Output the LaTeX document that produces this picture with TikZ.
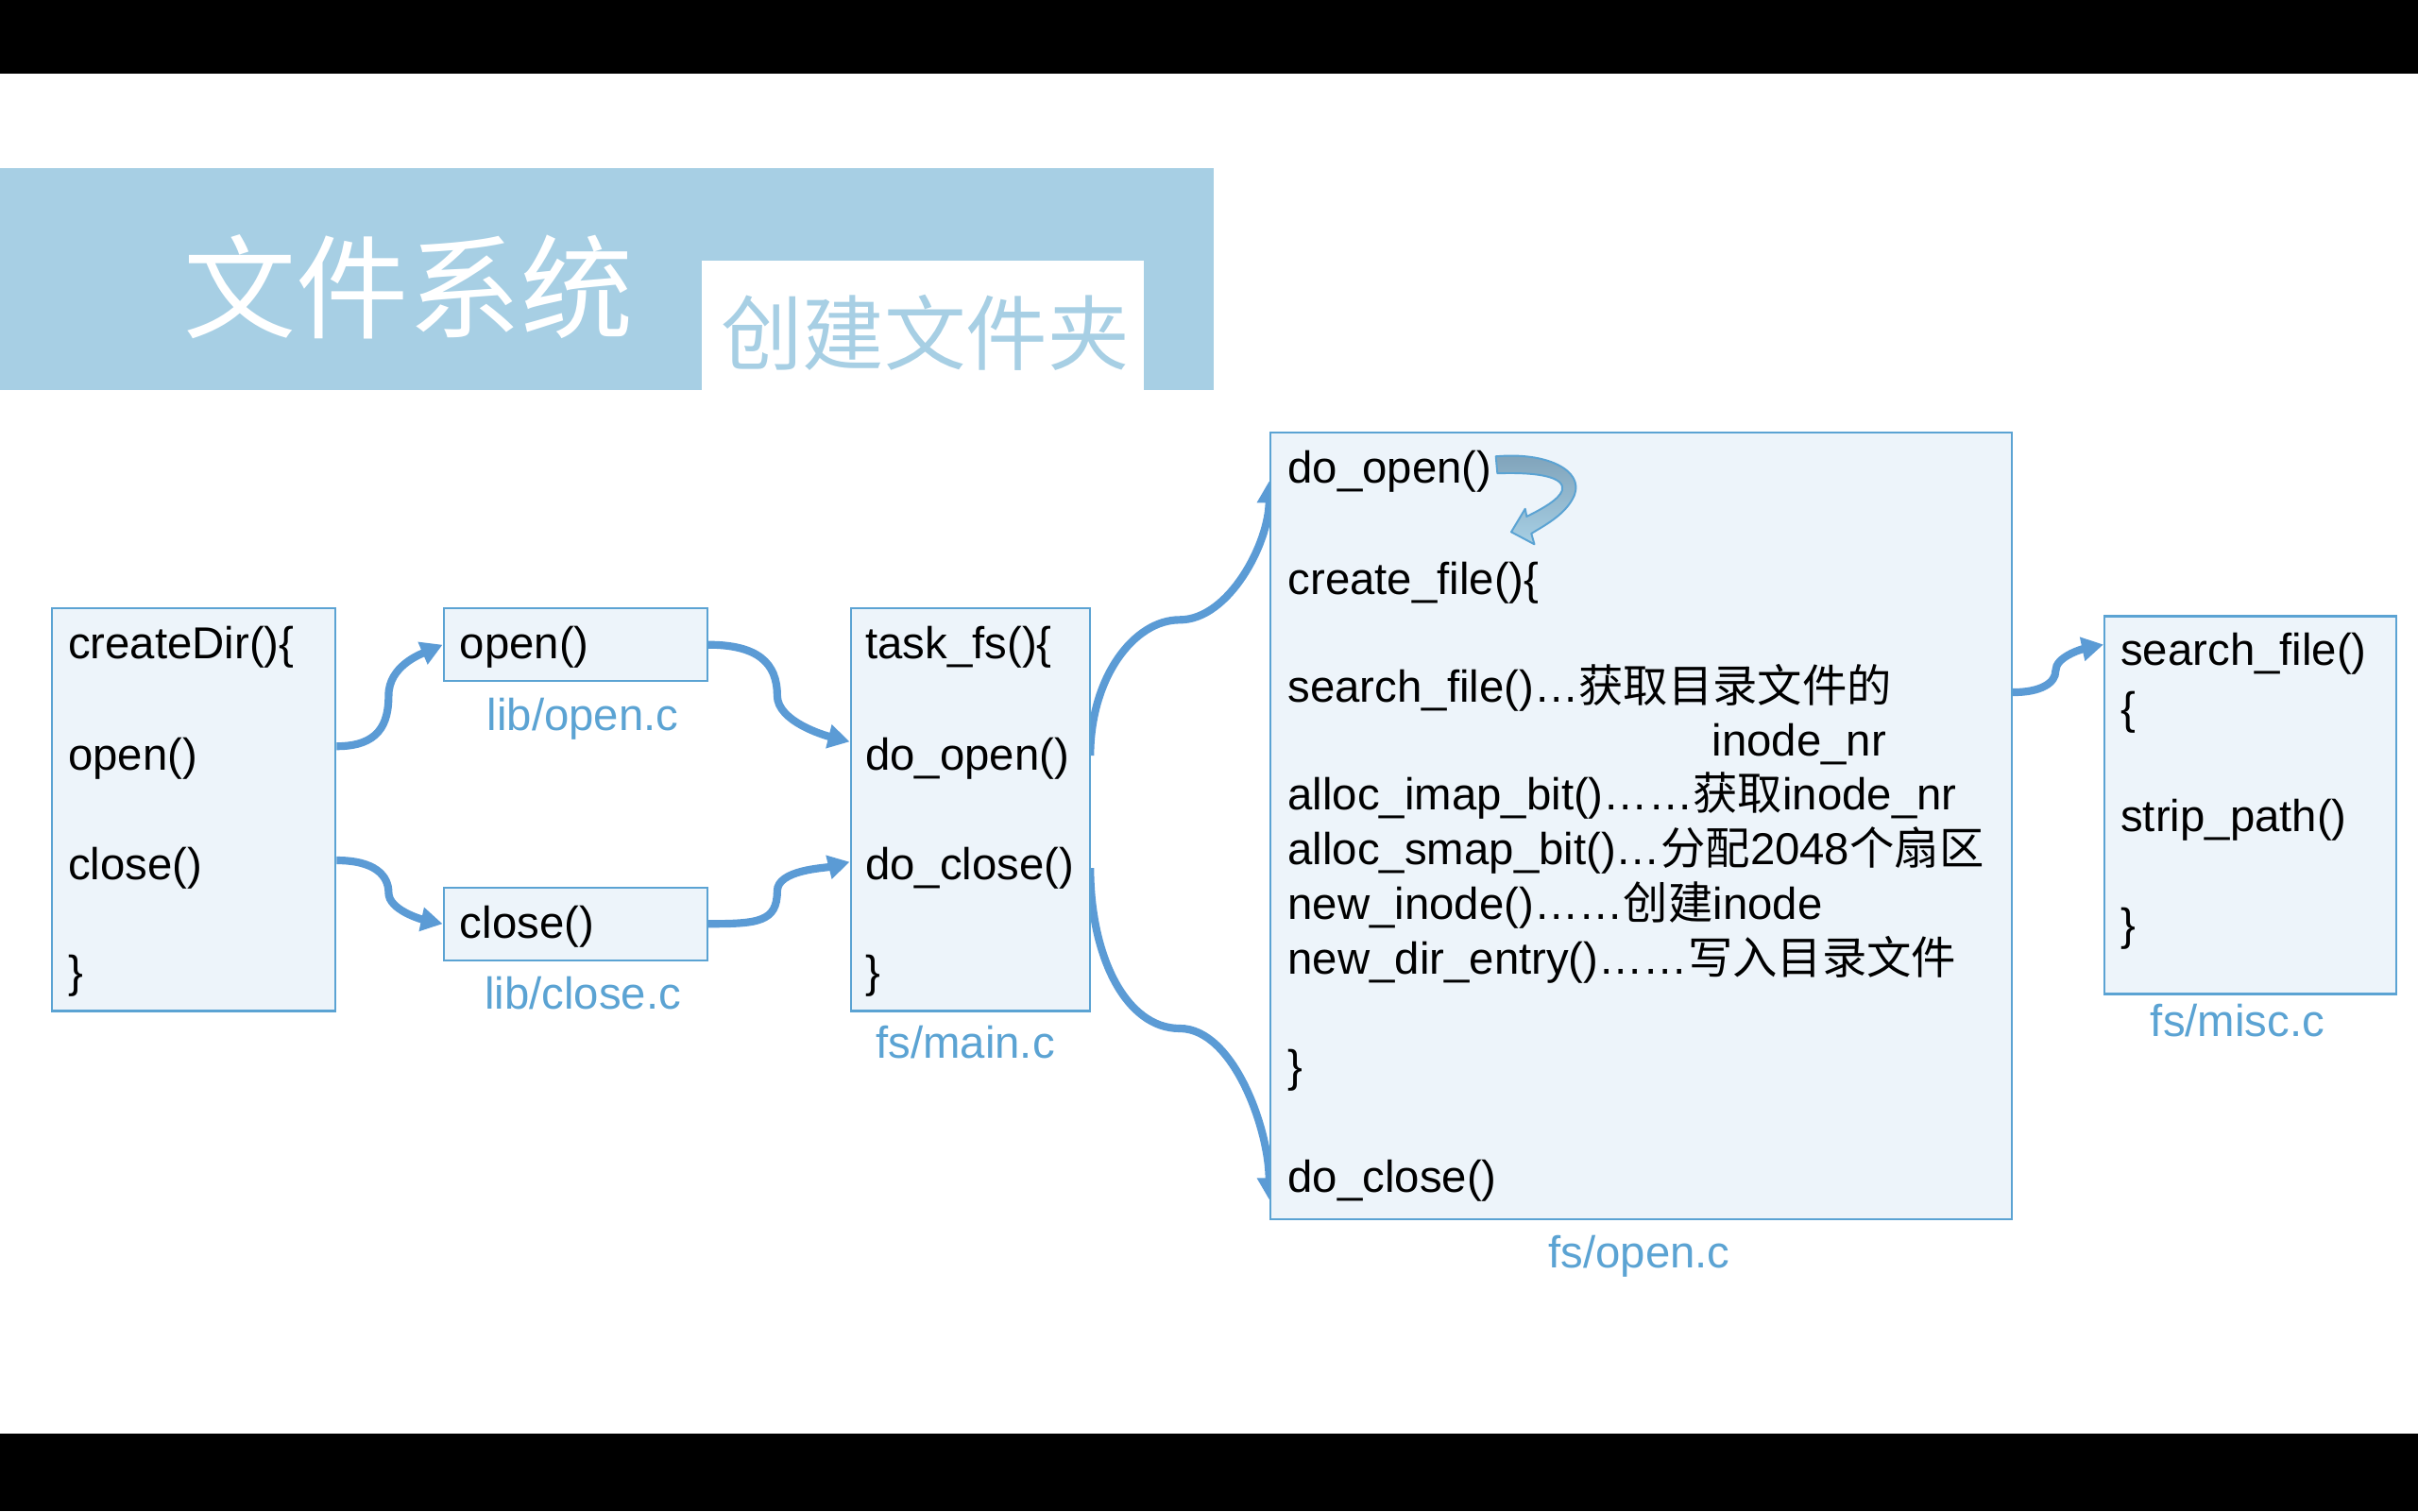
\documentclass[tikz,border=0pt]{standalone}
\usepackage{fontspec}
\setmainfont{Liberation Sans}
\newfontfamily\cjk{Noto Sans CJK SC}
\usetikzlibrary{arrows.meta,calc}
\definecolor{bandblue}{HTML}{A7CFE4}
\definecolor{boxfill}{HTML}{EDF4FA}
\definecolor{boxline}{HTML}{5BA3D3}
\definecolor{connblue}{HTML}{5B9BD5}
\definecolor{labelblue}{HTML}{5BA3D3}
\definecolor{loopdark}{HTML}{7FA2B9}
\begin{document}
\begin{tikzpicture}[x=1pt,y=-1pt,font=\fontsize{29}{35}\selectfont,
  codebox/.style={draw=boxline,fill=boxfill,line width=1.3pt,inner sep=0,anchor=north west},
  ln/.style={anchor=west,inner sep=0,text height=21pt,text depth=0pt},
  lbl/.style={text=labelblue,inner sep=0,text height=21pt,text depth=0pt},
  flow/.style={draw=connblue,line width=5pt,-{Triangle[length=14pt,width=15pt]}}]
\useasboundingbox (0,0) rectangle (1568,980);
\fill[white] (0,0) rectangle (1568,980);
\fill[black] (0,0) rectangle (1568,48);
\fill[black] (0,930) rectangle (1568,980);
% title band
\fill[bandblue] (0,109) rectangle (787,253);
\fill[white] (455,169) rectangle (742,253);
\node[text=white,font=\cjk\fontsize{73}{80}\selectfont,inner sep=0] (title) at (265,186) {文件系统};
\node[text=bandblue,font=\cjk\fontsize{53}{60}\selectfont,inner sep=0] (subtitle) at (600,216) {创建文件夹};
% coordinates for the two long connectors (drawn under the boxes)
\coordinate (tfo) at (707,490);
\coordinate (tfc) at (707,563);
\coordinate (foo) at (823,312);
\coordinate (foc) at (823,778);
\draw[flow] (tfo) .. controls +(0,-50) and +(-30,0) .. (765,402)
   .. controls +(32,0) and +(0,40) .. (foo);
\draw[flow] (tfc) .. controls +(0,57) and +(-35,0) .. (765,667)
   .. controls +(35,0) and +(0,-45) .. (foc);
% boxes
\node[codebox,minimum width=184pt,minimum height=261pt] (cd) at (33,394) {};
\node[codebox,minimum width=171pt,minimum height=47pt] (ob) at (287,394) {};
\node[codebox,minimum width=171pt,minimum height=47pt] (cb) at (287,575) {};
\node[codebox,minimum width=155pt,minimum height=261pt] (tf) at (551,394) {};
\node[codebox,minimum width=481pt,minimum height=510pt] (fo) at (823,280) {};
\node[codebox,minimum width=189pt,minimum height=245pt] (ms) at (1364,399) {};
% createDir text
\node[ln] (cdl1) at (44,417) {createDir()\{};
\node[ln] (cdl2) at (44,489) {open()};
\node[ln] (cdl3) at (44,560) {close()};
\node[ln] (cdl4) at (44,630) {\}};
% open / close
\node[ln] (obl1) at (298,417) {open()};
\node[ln] (cbl1) at (298,598) {close()};
% task_fs
\node[ln] (tfl1) at (561,417) {task\_fs()\{};
\node[ln] (tfl2) at (561,489) {do\_open()};
\node[ln] (tfl3) at (561,560) {do\_close()};
\node[ln] (tfl4) at (561,630) {\}};
% fs/open.c
\node[ln] (fol1) at (835,303) {do\_open()};
\node[ln] (fol2) at (835,375) {create\_file()\{};
\node[ln] (fol3) at (835,445) {search\_file()…{\cjk 获取目录文件的}};
\node[ln] (fol4) at (1110,480) {inode\_nr};
\node[ln] (fol5) at (835,515) {alloc\_imap\_bit()……{\cjk 获取}inode\_nr};
\node[ln] (fol6) at (835,550) {alloc\_smap\_bit()…{\cjk 分配}2048{\cjk 个扇区}};
\node[ln] (fol7) at (835,586) {new\_inode()……{\cjk 创建}inode};
\node[ln] (fol8) at (835,621) {new\_dir\_entry()……{\cjk 写入目录文件}};
\node[ln] (fol9) at (835,691) {\}};
\node[ln] (fol10) at (835,763) {do\_close()};
% misc
\node[ln] (msl1) at (1375,421) {search\_file()};
\node[ln] (msl2) at (1375,459) {\{};
\node[ln] (msl3) at (1375,529) {strip\_path()};
\node[ln] (msl4) at (1375,599) {\}};
% labels
\node[lbl] (lopen) at (378,463) {lib/open.c};
\node[lbl] (lclose) at (378,644) {lib/close.c};
\node[lbl] (lmain) at (626,676) {fs/main.c};
\node[lbl] (lfopen) at (1063,812) {fs/open.c};
\node[lbl] (lmisc) at (1451,662) {fs/misc.c};
% connectors
\draw[flow] ($(cd.east |- cdl2)+(0,-5)$) .. controls +(27,0) and +(0,19) .. (252,451)
   .. controls +(0,-19) and +(-14,6) .. (ob.west);
\draw[flow] ($(cd.east |- cdl3)+(0,-2)$) .. controls +(25,0) and +(0,-11) .. (252,579)
   .. controls +(0,11) and +(-14,-3) .. (cb.west);
\draw[flow] (ob.east) .. controls +(32,0) and +(0,-21) .. (504,451)
   .. controls +(0,17) and +(-16,-4) .. ($(tf.west |- tfl2)+(0,-8)$);
\draw[flow] (cb.east) .. controls +(32,0) and +(0,20) .. (504,578)
   .. controls +(0,-14) and +(-16,4) .. ($(tf.west |- tfl3)+(0,-1)$);
\draw[flow] ($(fo.east |- fol3)+(0,4)$) .. controls +(18,0) and +(0,8) .. (1333,435)
   .. controls +(0,-9) and +(-14,3) .. ($(ms.west |- msl1)+(0,-3)$);
% self loop block arrow
\draw[draw=boxline,line width=1.2pt,top color=loopdark,bottom color=bandblue,line join=round]
  (970,296) .. controls (1003,293) and (1027,305) .. (1021,321)
  .. controls (1016,333) and (1003,340) .. (993,346)
  -- (995,353) -- (980,345) -- (989,330) -- (990,335)
  .. controls (1000,330) and (1011,324) .. (1013,318)
  .. controls (1015,310) and (1000,306) .. (971,307) -- cycle;
\end{tikzpicture}
\end{document}
